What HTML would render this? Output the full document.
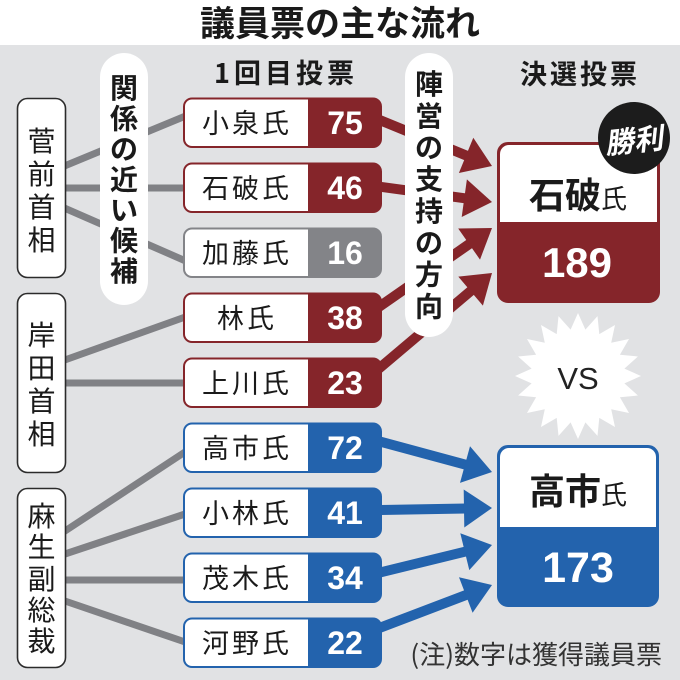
<!DOCTYPE html>
<html><head><meta charset="utf-8">
<style>
html,body{margin:0;padding:0;background:#fff;}
svg{display:block;}
text{font-family:"Liberation Sans","Noto Sans CJK JP",sans-serif;}
.j{font-family:"Noto Sans CJK JP","Liberation Sans",sans-serif;}
</style></head>
<body>
<svg width="680" height="680" viewBox="0 0 680 680" xmlns="http://www.w3.org/2000/svg">
<rect x="0" y="0" width="680" height="680" fill="#fff"/>
<rect x="0" y="45" width="680" height="635" fill="#e1e2e4"/>
<text class="j" x="340" y="36" font-size="35" font-weight="bold" text-anchor="middle" fill="#1a1a1a">議員票の主な流れ</text>

<text class="j" x="286" y="83" font-size="27" font-weight="bold" text-anchor="middle" letter-spacing="4" fill="#1a1a1a">1回目投票</text>
<text class="j" x="580" y="84" font-size="27" font-weight="bold" text-anchor="middle" letter-spacing="3" fill="#1a1a1a">決選投票</text>

<!-- grey lines -->
<g stroke="#808185" stroke-width="7" fill="none">
<line x1="62" y1="167" x2="188" y2="115"/>
<line x1="62" y1="188" x2="188" y2="188"/>
<line x1="62" y1="207" x2="188" y2="262"/>
<line x1="62" y1="361" x2="188" y2="316"/>
<line x1="62" y1="383" x2="188" y2="383"/>
<line x1="62" y1="533" x2="188" y2="450"/>
<line x1="62" y1="555" x2="188" y2="513"/>
<line x1="62" y1="580" x2="188" y2="580"/>
<line x1="62" y1="600" x2="188" y2="643"/>
</g>

<!-- red arrows -->
<g stroke="#85252a" stroke-width="10" fill="none">
<line x1="376" y1="118.5" x2="468" y2="156.2"/>
<line x1="376" y1="186.2" x2="466" y2="198.4"/>
<line x1="376" y1="309" x2="470" y2="243.5"/>
<line x1="376" y1="371" x2="471.5" y2="290.3"/>
</g>
<g fill="#85252a">
<polygon points="492,166 458.9,173.0 473.3,137.8"/>
<polygon points="492,202 461.7,217.0 466.9,179.4"/>
<polygon points="492,228 480.0,259.6 458.2,228.5"/>
<polygon points="492,273 482.9,305.6 458.3,276.6"/>
</g>

<!-- blue arrows -->
<g stroke="#2363ad" stroke-width="10" fill="none">
<line x1="376" y1="440.4" x2="467" y2="465.1"/>
<line x1="376" y1="510.1" x2="466" y2="508.5"/>
<line x1="376" y1="573.5" x2="466.5" y2="551.3"/>
<line x1="376" y1="629.3" x2="467.5" y2="594.4"/>
</g>
<g fill="#2363ad">
<polygon points="492,472 460.0,482.9 470.0,446.3"/>
<polygon points="492,508 464.3,527.5 463.7,489.5"/>
<polygon points="492,545 469.3,570.1 460.3,533.2"/>
<polygon points="492,585 472.6,612.7 459.0,577.2"/>
</g>

<!-- pills -->
<rect x="100" y="53" width="48" height="252" rx="24" fill="#fff"/>
<rect x="405" y="53" width="48" height="284" rx="24" fill="#fff"/>
<g class="j" font-size="28" font-weight="bold" text-anchor="middle" fill="#1a1a1a">
<text class="j" x="124" y="98">関</text>
<text class="j" x="124" y="128.5">係</text>
<text class="j" x="124" y="159">の</text>
<text class="j" x="124" y="189.5">近</text>
<text class="j" x="124" y="220">い</text>
<text class="j" x="124" y="250.5">候</text>
<text class="j" x="124" y="281">補</text>

<text class="j" x="429" y="94">陣</text>
<text class="j" x="429" y="126">営</text>
<text class="j" x="429" y="157.5">の</text>
<text class="j" x="429" y="189">支</text>
<text class="j" x="429" y="221">持</text>
<text class="j" x="429" y="253">の</text>
<text class="j" x="429" y="284.5">方</text>
<text class="j" x="429" y="316.5">向</text>
</g>

<!-- left boxes -->
<g fill="#fff" stroke="#2b2b2b" stroke-width="1.6">
<rect x="17.5" y="98.5" width="48" height="179" rx="10"/>
<rect x="17.5" y="293.5" width="48" height="179" rx="10"/>
<rect x="17.5" y="488.5" width="48" height="179" rx="10"/>
</g>
<g font-size="28" text-anchor="middle" fill="#1a1a1a">
<text class="j" x="41.5" y="151">菅</text>
<text class="j" x="41.5" y="184">前</text>
<text class="j" x="41.5" y="217">首</text>
<text class="j" x="41.5" y="250">相</text>

<text class="j" x="41.5" y="345">岸</text>
<text class="j" x="41.5" y="378">田</text>
<text class="j" x="41.5" y="411">首</text>
<text class="j" x="41.5" y="444">相</text>

<text class="j" x="41.5" y="526">麻</text>
<text class="j" x="41.5" y="557">生</text>
<text class="j" x="41.5" y="589">副</text>
<text class="j" x="41.5" y="620">総</text>
<text class="j" x="41.5" y="651">裁</text>
</g>

<!-- candidate boxes -->
<g>
<rect x="183" y="97.5" width="199" height="50.5" rx="9" fill="#85252a"/>
<rect x="185" y="99.5" width="130" height="46.5" rx="7" fill="#fff"/>
<rect x="308" y="97.5" width="10" height="50.5" fill="#85252a"/>

<rect x="183" y="162.5" width="199" height="50.5" rx="9" fill="#85252a"/>
<rect x="185" y="164.5" width="130" height="46.5" rx="7" fill="#fff"/>
<rect x="308" y="162.5" width="10" height="50.5" fill="#85252a"/>

<rect x="183" y="227.5" width="199" height="50.5" rx="9" fill="#838488"/>
<rect x="185" y="229.5" width="130" height="46.5" rx="7" fill="#fff"/>
<rect x="308" y="227.5" width="10" height="50.5" fill="#838488"/>

<rect x="183" y="292.5" width="199" height="50.5" rx="9" fill="#85252a"/>
<rect x="185" y="294.5" width="130" height="46.5" rx="7" fill="#fff"/>
<rect x="308" y="292.5" width="10" height="50.5" fill="#85252a"/>

<rect x="183" y="357.5" width="199" height="50.5" rx="9" fill="#85252a"/>
<rect x="185" y="359.5" width="130" height="46.5" rx="7" fill="#fff"/>
<rect x="308" y="357.5" width="10" height="50.5" fill="#85252a"/>

<rect x="183" y="422.5" width="199" height="50.5" rx="9" fill="#2363ad"/>
<rect x="185" y="424.5" width="130" height="46.5" rx="7" fill="#fff"/>
<rect x="308" y="422.5" width="10" height="50.5" fill="#2363ad"/>

<rect x="183" y="487.5" width="199" height="50.5" rx="9" fill="#2363ad"/>
<rect x="185" y="489.5" width="130" height="46.5" rx="7" fill="#fff"/>
<rect x="308" y="487.5" width="10" height="50.5" fill="#2363ad"/>

<rect x="183" y="552.5" width="199" height="50.5" rx="9" fill="#2363ad"/>
<rect x="185" y="554.5" width="130" height="46.5" rx="7" fill="#fff"/>
<rect x="308" y="552.5" width="10" height="50.5" fill="#2363ad"/>

<rect x="183" y="617.5" width="199" height="50.5" rx="9" fill="#2363ad"/>
<rect x="185" y="619.5" width="130" height="46.5" rx="7" fill="#fff"/>
<rect x="308" y="617.5" width="10" height="50.5" fill="#2363ad"/>
</g>
<g font-size="27" text-anchor="middle" letter-spacing="3" fill="#1a1a1a">
<text class="j" x="247" y="133">小泉氏</text>
<text class="j" x="247" y="198">石破氏</text>
<text class="j" x="247" y="263">加藤氏</text>
<text class="j" x="247" y="328">林氏</text>
<text class="j" x="247" y="393">上川氏</text>
<text class="j" x="247" y="458">高市氏</text>
<text class="j" x="247" y="523">小林氏</text>
<text class="j" x="247" y="588">茂木氏</text>
<text class="j" x="247" y="653">河野氏</text>
</g>
<g font-size="32" font-weight="bold" text-anchor="middle" fill="#fff">
<text x="345" y="134">75</text>
<text x="345" y="199">46</text>
<text x="345" y="264">16</text>
<text x="345" y="329">38</text>
<text x="345" y="394">23</text>
<text x="345" y="459">72</text>
<text x="345" y="524">41</text>
<text x="345" y="589">34</text>
<text x="345" y="654">22</text>
</g>

<!-- Ishiba result box -->
<rect x="498" y="143" width="161" height="159" rx="10" fill="#85252a" stroke="#85252a" stroke-width="2"/>
<path d="M500,222 V154 A9,9 0 0 1 509,145 H648 A9,9 0 0 1 657,154 V222 Z" fill="#fff"/>
<text class="j" x="578" y="208" text-anchor="middle" fill="#1a1a1a"><tspan font-size="36" font-weight="bold">石破</tspan><tspan font-size="26">氏</tspan></text>
<text x="577" y="277" font-size="42" font-weight="bold" text-anchor="middle" fill="#fff">189</text>
<circle cx="634" cy="138" r="36" fill="#1c1c1c"/>
<text class="j" x="0" y="0" font-size="29" font-weight="bold" text-anchor="middle" fill="#fff" transform="translate(635,151) rotate(-6) skewX(-12)">勝利</text>

<!-- VS starburst -->
<polygon fill="#fff" points="578,313 585.4,329.6 597.5,316.1 599.3,334.1 615.0,325.0 611.2,342.8 629.0,339.0 619.9,354.7 637.9,356.5 624.4,368.6 641,376 624.4,383.4 637.9,395.5 619.9,397.3 629.0,413.0 611.2,409.2 615.0,427.0 599.3,417.9 597.5,435.9 585.4,422.4 578,439 570.6,422.4 558.5,435.9 556.7,417.9 541.0,427.0 544.8,409.2 527.0,413.0 536.1,397.3 518.1,395.5 531.6,383.4 515,376 531.6,368.6 518.1,356.5 536.1,354.7 527.0,339.0 544.8,342.8 541.0,325.0 556.7,334.1 558.5,316.1 570.6,329.6"/>
<text x="578" y="389" font-size="31" text-anchor="middle" fill="#222">VS</text>

<!-- Takaichi result box -->
<rect x="498" y="446" width="160" height="160" rx="10" fill="#2363ad" stroke="#2363ad" stroke-width="2"/>
<path d="M500,527 V457 A9,9 0 0 1 509,448 H647 A9,9 0 0 1 656,457 V527 Z" fill="#fff"/>
<text class="j" x="578" y="504" text-anchor="middle" fill="#1a1a1a"><tspan font-size="36" font-weight="bold">高市</tspan><tspan font-size="26">氏</tspan></text>
<text x="578" y="582" font-size="43" font-weight="bold" text-anchor="middle" fill="#fff">173</text>

<text class="j" x="662" y="664" font-size="26" text-anchor="end" fill="#333">(注)数字は獲得議員票</text>
</svg>
</body></html>
